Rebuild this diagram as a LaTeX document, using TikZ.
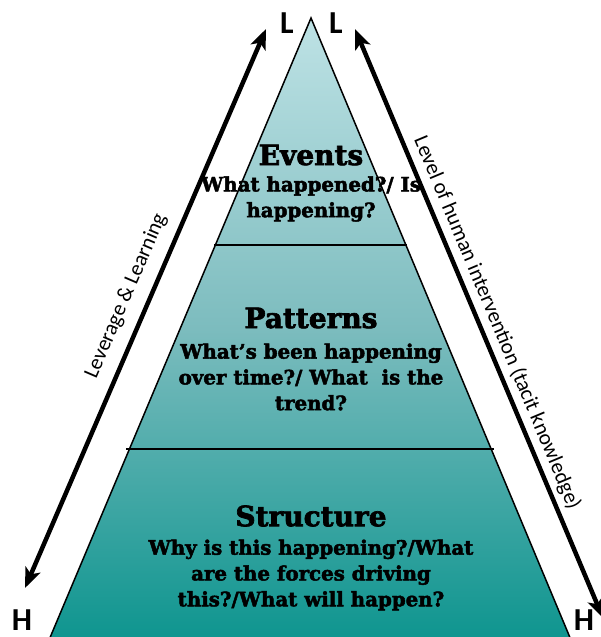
\documentclass[tikz,border=0pt]{standalone}
\usepackage{fontspec}
\setmainfont{DejaVu Serif}
\newfontfamily\heavy{DejaVu Serif Bold}[FakeBold=2.4]
\newfontfamily\carl{Carlito}
\usetikzlibrary{arrows.meta}
\definecolor{topc}{HTML}{BEE2E5}
\definecolor{midc}{HTML}{7CBCBE}
\definecolor{botc}{HTML}{0E958F}
\tikzset{
  title/.style={font=\heavy\fontsize{28}{30}\selectfont, inner sep=0pt},
  question/.style={font=\heavy\fontsize{19.8}{25.8}\selectfont, align=center, inner sep=0pt},
  endlabel/.style={font=\carl\fontsize{32}{34}\selectfont\bfseries, inner sep=0pt},
  sidelabel/.style={font=\carl\fontsize{21.5}{24}\selectfont, inner sep=0pt},
  bigarrow/.style={line width=4.5pt, {Stealth[length=20pt,width=16pt,inset=5pt]}-{Stealth[length=20pt,width=16pt,inset=5pt]}},
  divider/.style={line width=1.2pt}
}
\begin{document}
\begin{tikzpicture}[x=1pt,y=-1pt]
\useasboundingbox (0,0) rectangle (601,637);
\coordinate (apex) at (311,18);
\coordinate (bl) at (49,640);
\coordinate (br) at (571,640);
\shade[top color=topc, bottom color=botc, middle color=midc] (apex) -- (bl) -- (br) -- cycle;
\draw[line width=1.5pt, line join=miter] (bl) -- (apex) -- (br);
\coordinate (d1l) at (214,245);
\coordinate (d1r) at (407,245);
\coordinate (d2l) at (126,449);
\coordinate (d2r) at (494,449);
\draw[divider] (d1l) -- (d1r);
\draw[divider] (d2l) -- (d2r);
% arrows
\coordinate (la) at (25,588);
\coordinate (lb) at (266,29);
\coordinate (ra) at (355,29);
\coordinate (rb) at (603,618);
\draw[bigarrow] (la) -- (lb);
\draw[bigarrow] (ra) -- (rb);
% end labels
\node[endlabel] (L1) at (287,23) {L};
\node[endlabel] (L2) at (336,23) {L};
\node[endlabel] (H1) at (22,620) {H};
\node[endlabel] (H2) at (584,620) {H};
% side labels
\node[sidelabel, rotate=66.7] (lev) at (126,296) {Leverage \& Learning};
\node[sidelabel, rotate=-67.3] (lvl) at (497,323) {Level of human intervention (tacit knowledge)};
% texts
\node[title] (ev) at (311,155) {Events};
\node[question] (evq) at (311,199) {What happened?/ Is\\happening?};
\node[title] (pa) at (311,318) {Patterns};
\node[question] (paq) at (311,377) {What’s been happening\\over time?/ What\ \ is the\\trend?};
\node[title] (st) at (311,516) {Structure};
\node[question] (stq) at (311,575) {Why is this happening?/What\\are the forces driving\\this?/What will happen?};
\end{tikzpicture}
\end{document}
